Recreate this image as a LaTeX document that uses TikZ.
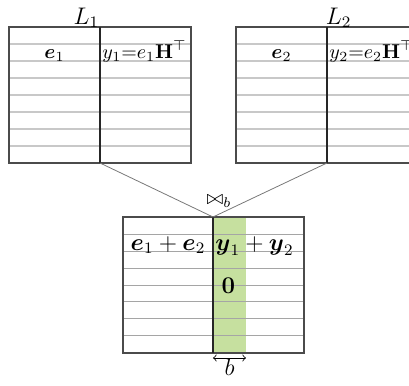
\documentclass[tikz,border=0pt]{standalone}
\usepackage{amsmath,amssymb}
\definecolor{bandgreen}{RGB}{198,224,159}
\definecolor{rowlight}{RGB}{200,200,200}
\definecolor{rowdark}{RGB}{165,165,165}
\definecolor{framegray}{RGB}{75,75,75}
\definecolor{linkgray}{RGB}{120,120,120}
\tikzset{
  rowA/.style={draw=rowlight, line width=0.6pt},
  rowB/.style={draw=rowdark, line width=0.5pt},
  frameline/.style={draw=framegray, line width=0.6pt},
  divline/.style={draw=black!85, line width=0.6pt},
  link/.style={draw=linkgray, line width=0.4pt},
  lbl/.style={inner sep=1pt, outer sep=0pt},
}
\begin{document}
\begin{tikzpicture}[x=0.5pt,y=-0.5pt]
\useasboundingbox (0,0) rectangle (409,386);
\clip (0,0) rectangle (409,386);

% ---- left table L1
\foreach \k in {1,...,7} \draw[rowA] (9,{27+17*\k}) -- (191,{27+17*\k});
\draw[frameline] (9,27) rectangle (191,163);
\draw[divline] (100,27) -- (100,163);
\coordinate (Aout) at (100,163);
\node[lbl, anchor=base east] (labA) at (101,24) {\large$L_1$};
\node[lbl, anchor=base] (eA) at (54.5,58) {$\boldsymbol{e}_1$};
\node[lbl, anchor=base west] (yA) at (100.5,58) {$y_1{=}e_1\mathbf{H}^{\top}$};

% ---- right table L2
\foreach \k in {1,...,7} \draw[rowA] (236,{27+17*\k}) -- (418,{27+17*\k});
\draw[frameline] (236,27) rectangle (418,163);
\draw[divline] (327,27) -- (327,163);
\coordinate (Bout) at (327,163);
\node[lbl, anchor=base west] (labB) at (324,24) {\large$L_2$};
\node[lbl, anchor=base] (eB) at (281.5,58) {$\boldsymbol{e}_2$};
\node[lbl, anchor=base west] (yB) at (327.5,58) {$y_2{=}e_2\mathbf{H}^{\top}$};

% ---- joined table
\fill[bandgreen] (213,217) rectangle (246,353);
\foreach \k in {1,...,7} \draw[rowB] (123,{217+17*\k}) -- (304,{217+17*\k});
\draw[frameline] (123,217) rectangle (304,353);
\draw[divline] (213,217) -- (213,353);
\coordinate (Cin) at (213,217);
\node[lbl, anchor=base] (eC) at (168,250) {\large$\boldsymbol{e}_1+\boldsymbol{e}_2$};
\node[lbl, anchor=base west] (yC) at (213.5,250) {\large$\boldsymbol{y}_1+\boldsymbol{y}_2$};
\node[lbl, anchor=base] (zero) at (228.5,293) {\large$\mathbf{0}$};

% ---- join connectors
\draw[link] (Aout) -- (Cin);
\draw[link] (Bout) -- (Cin);
\node[lbl, anchor=base] (join) at (219,205) {$\bowtie_b$};

% ---- width marker
\coordinate (bL) at (213,358);
\coordinate (bR) at (246,358);
\draw[<->, line width=0.4pt] (bL) -- (bR);
\node[lbl, anchor=base] (bw) at (229.5,376) {\large$b$};
\end{tikzpicture}
\end{document}
